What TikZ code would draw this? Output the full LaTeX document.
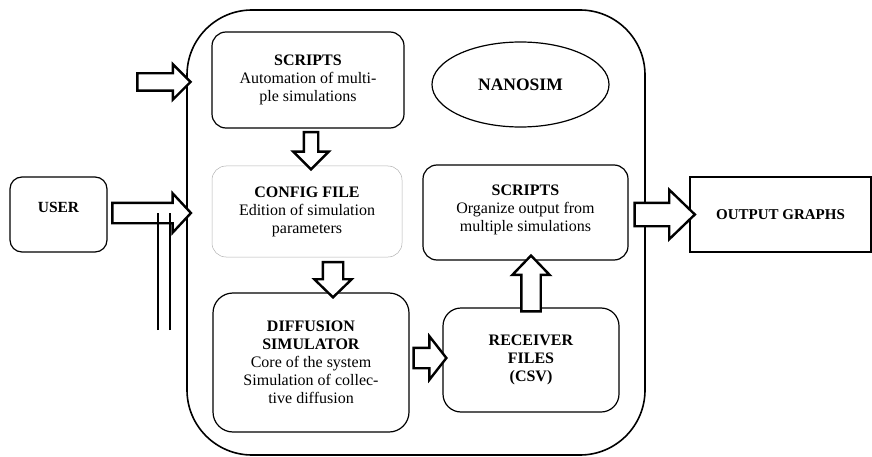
\documentclass[tikz,border=0pt]{standalone}
\usepackage{fontspec}
\setmainfont{Liberation Serif}
\usetikzlibrary{shapes.geometric,shapes.arrows,calc}

\begin{document}
\begin{tikzpicture}[x=1pt,y=-1pt,
font=\fontsize{16}{18}\selectfont,
box/.style={draw,rounded corners=14pt,line width=1.2pt,align=center,inner sep=0pt},
fat/.style 2 args={draw,fill=white,line width=2.4pt,single arrow,
  inner xsep=0pt,inner ysep=#1,single arrow head extend=#2,
  single arrow head indent=0pt,midway,sloped},
bar/.style={line width=2.4pt}]
\useasboundingbox (0,0) rectangle (872,457);

\node[draw,line width=1.6pt,rounded corners=65pt,
minimum width=458,minimum height=445] (frame) at (416,232.5) {};

\node[box,minimum width=97,minimum height=75,rounded corners=12pt,
font=\bfseries\fontsize{15.5}{18}\selectfont] (user) at (58.5,214.5) {USER\\[-4pt]};
\node[box,minimum width=192,minimum height=96] (auto) at (308,80)
{\textbf{SCRIPTS}\\Automation of multi-\\ple simulations};
\node[draw,ellipse,line width=1.2pt,minimum width=177,minimum height=85,
font=\bfseries\fontsize{17.5}{18}\selectfont] (nano) at (520.5,84.5) {NANOSIM};
\node[box,draw=gray!60,line width=0.5pt,minimum width=190,minimum height=91] (conf) at (307,211.5)
{\textbf{CONFIG FILE}\\Edition of simulation\\parameters};
\node[box,minimum width=196,minimum height=139,rounded corners=20pt] (diff) at (311,362.5)
{\textbf{DIFFUSION}\\\textbf{SIMULATOR}\\Core of the system\\Simulation of collec-\\tive diffusion};
\node[box,minimum width=176,minimum height=104,rounded corners=18pt] (recv) at (531,360)
{\textbf{RECEIVER}\\\textbf{FILES}\\\textbf{(CSV)}};
\node[box,minimum width=205,minimum height=95] (org) at (525.5,212.5)
{\textbf{SCRIPTS}\\Organize output from\\multiple simulations\\[-10pt]};
\node[draw,line width=2.4pt,minimum width=181,minimum height=75,
font=\bfseries\fontsize{15}{18}\selectfont] (out) at (780.5,214.5) {OUTPUT GRAPHS};

% arrow ends
\coordinate (in1) at (133,82);
\coordinate (c2) at ([yshift=1.5pt]user.east);
\coordinate (c3) at ([xshift=3pt]auto.south);
\coordinate (c4) at ([xshift=26pt]conf.south);
\coordinate (c5) at ([yshift=4.5pt]diff.east);
\coordinate (c6) at ([yshift=-9pt]recv.north);
\coordinate (c7) at ([yshift=-2pt]org.east);

\path let \p1=($(in1 -| frame.west)-(in1)$) in (in1) -- (in1 -| frame.west)
node[fat={7.5pt}{9pt},single arrow tip angle=90,minimum height={veclen(\x1,\y1)}] {};
\path let \p1=($(c2 -| frame.west)-(c2)$) in (c2) -- (c2 -| frame.west)
node[fat={9pt}{9.5pt},single arrow tip angle=94,minimum height={veclen(\x1,\y1)}] {};
\path let \p1=($(c3 |- conf.north)-(c3)$) in (c3) -- (c3 |- conf.north)
node[fat={6pt}{10.5pt},single arrow tip angle=90,minimum height={veclen(\x1,\y1)}] {};
\path let \p1=($(c4 |- diff.north)-(c4)$) in (c4) -- (c4 |- diff.north)
node[fat={9pt}{8.5pt},single arrow tip angle=92,minimum height={veclen(\x1,\y1)}] {};
\path let \p1=($(c5 -| recv.west)-(c5)$) in (c5) -- (c5 -| recv.west)
node[fat={9pt}{11.5pt},single arrow tip angle=104,minimum height={veclen(\x1,\y1)}] {};
\path let \p1=($(c6 |- org.south)-(c6)$) in (c6) -- (c6 |- org.south)
node[fat={8.5pt}{9pt},single arrow tip angle=88,minimum height={veclen(\x1,\y1)}] {};
\path let \p1=($(c7 -| out.west)-(c7)$) in (c7) -- (c7 -| out.west)
node[fat={10.5pt}{13pt},single arrow tip angle=88,minimum height={veclen(\x1,\y1)}] {};

% the two bars under the user arrow
\coordinate (bar1) at (158,330);
\coordinate (bar2) at (170,330);
\draw[bar] (bar1) -- (bar1 |- c2);
\draw[bar] (bar2) -- (bar2 |- c2);
\end{tikzpicture}
\end{document}
